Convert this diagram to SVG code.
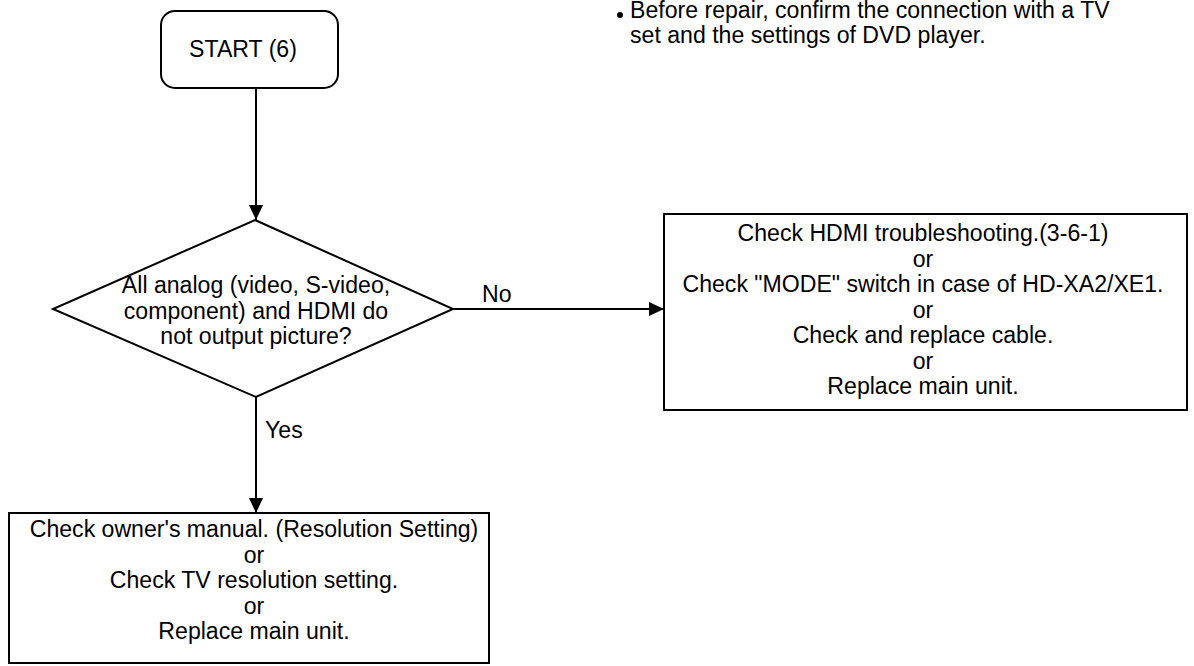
<svg xmlns="http://www.w3.org/2000/svg" width="1194" height="666" viewBox="0 0 1194 666">
<defs>
<style>
.s{fill:#fff;stroke:#000;stroke-width:2}
.t{font-family:"Liberation Sans",Arial,sans-serif;font-size:23.1px;fill:#000}
.c{text-anchor:middle}
.ln{stroke:#000;stroke-width:2;fill:none}
</style>
<marker id="ah" markerWidth="16" markerHeight="14" refX="15" refY="7" orient="auto" markerUnits="userSpaceOnUse">
<path d="M0,0 L15,7 L0,14 Z" fill="#000"/>
</marker>
</defs>
<rect width="1194" height="666" fill="#fff"/>
<g id="connectors">
<line class="ln" x1="256" y1="88" x2="256" y2="220" marker-end="url(#ah)"/>
<line class="ln" x1="453" y1="309" x2="664" y2="309" marker-end="url(#ah)"/>
<line class="ln" x1="256" y1="397" x2="256" y2="513" marker-end="url(#ah)"/>
<text class="t" x="482" y="302">No</text>
<text class="t" x="265" y="438">Yes</text>
</g>
<g id="start">
<rect class="s" x="161" y="11" width="177" height="77" rx="14"/>
<text class="t c" x="243" y="57">START (6)</text>
</g>
<g id="decision">
<polygon class="s" points="255,220 453,309 256,397 53,309"/>
<text class="t c" x="256" y="293">All analog (video, S-video,</text>
<text class="t c" x="256" y="318.5">component) and HDMI do</text>
<text class="t c" x="256" y="344">not output picture?</text>
</g>
<g id="no-box">
<rect class="s" x="664" y="214" width="523" height="196"/>
<text class="t c" x="923" y="241">Check HDMI troubleshooting.(3-6-1)</text>
<text class="t c" x="923" y="266.5">or</text>
<text class="t c" x="923" y="292">Check "MODE" switch in case of HD-XA2/XE1.</text>
<text class="t c" x="923" y="317.5">or</text>
<text class="t c" x="923" y="343">Check and replace cable.</text>
<text class="t c" x="923" y="368.5">or</text>
<text class="t c" x="923" y="394">Replace main unit.</text>
</g>
<g id="yes-box">
<rect class="s" x="9" y="513" width="480" height="150"/>
<text class="t c" x="254" y="537">Check owner's manual. (Resolution Setting)</text>
<text class="t c" x="254" y="562.5">or</text>
<text class="t c" x="254" y="588">Check TV resolution setting.</text>
<text class="t c" x="254" y="613.5">or</text>
<text class="t c" x="254" y="639">Replace main unit.</text>
</g>
<g id="note">
<circle cx="620" cy="15" r="3" fill="#000"/>
<text class="t" x="630" y="18">Before repair, confirm the connection with a TV</text>
<text class="t" x="630" y="43">set and the settings of DVD player.</text>
</g>
</svg>
